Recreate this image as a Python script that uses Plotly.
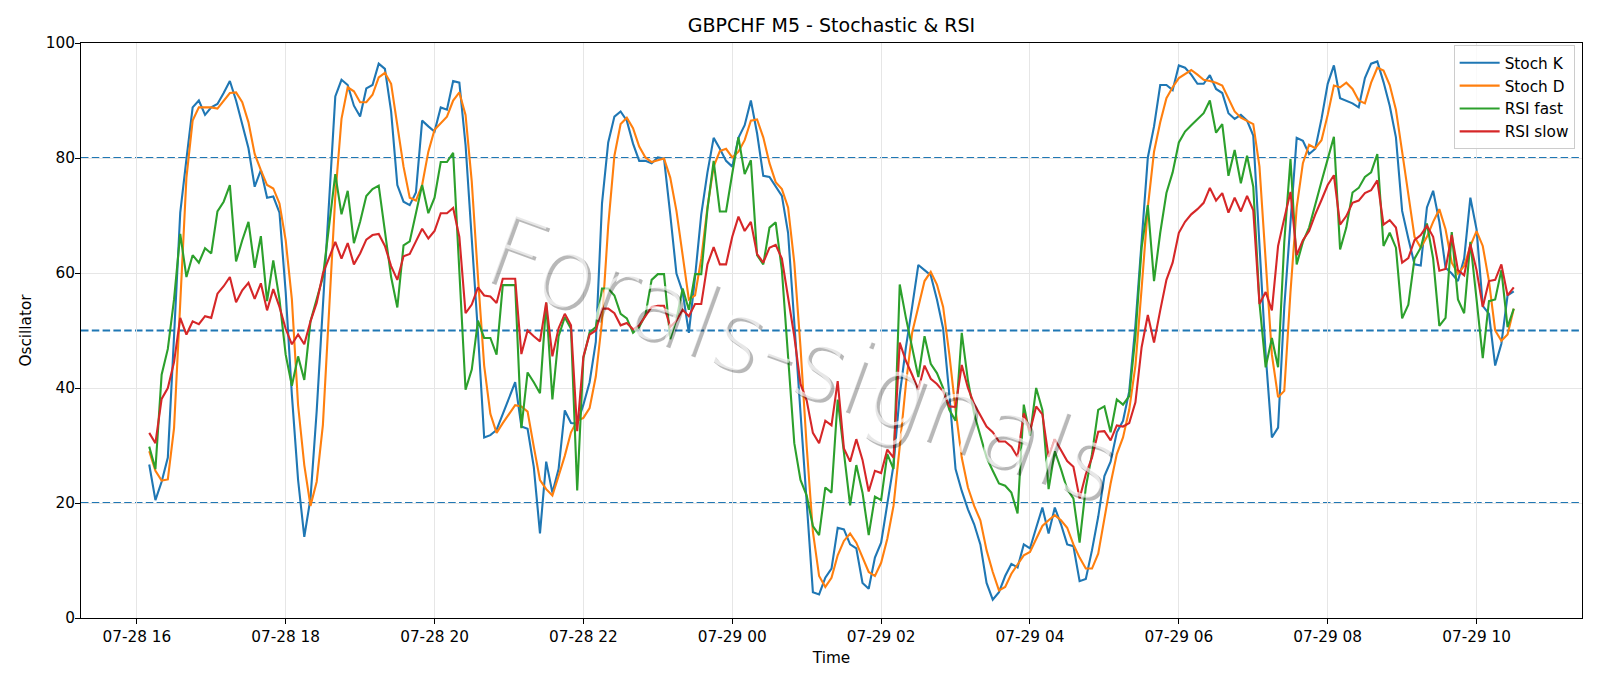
import pandas as pd
import plotly.graph_objects as go

START = "2025-07-28 16:10"
N_POINTS = 221
times = pd.date_range(START, periods=N_POINTS, freq="5min")

stoch_k = [26.7, 20.5, 23.7, 27.9, 49, 70.5, 79.8, 88.8, 90.0, 87.5, 88.8, 89.4, 91.3, 93.4, 90.0, 85.9, 81.7, 75.0, 77.9, 73.1,
           73.3, 70.5, 56.7, 38.8, 24.0, 14.1, 20.8, 36, 55, 72.7, 90.7, 93.6, 92.7, 89.1, 87.2, 92.1, 92.7, 96.4,
           95.5, 88.1, 75.3, 72.4, 71.8, 74.0, 86.5, 85.5, 84.6, 88.8, 88.4, 93.4, 93.1, 82.3, 66.3, 49.6, 31.4, 31.8, 32.7, 35.4,
           38.1, 41.0, 33.3, 32.9, 26.3, 14.7, 27.2, 21.8, 25.9, 36.1, 33.9, 33.8, 37.1, 41.0, 48.0, 72.1, 82.7, 87.2, 88.1,
           86.5, 82.5, 79.5, 79.5, 79.1, 80.1, 79.9, 70.2, 59.9, 56.7, 49.6, 59.3, 70.2, 77.5, 83.5, 81.6, 79.5, 78.5, 83.5, 85.7,
           90.0, 84.3, 76.9, 76.7, 75.0, 73.4, 67.0, 51.6, 36.2, 20.8, 4.5, 4.1, 7.0, 8.6, 15.7, 15.4, 12.8, 12.1,
           6.1, 5.1, 10.5, 13.1, 19.5, 26.6, 38.8, 47.1, 54.1, 61.4, 60.5, 59.6, 55.4, 50.3, 38.8, 25.9, 22.1, 18.9, 16.3, 12.8,
           6.1, 3.2, 4.5, 7.3, 9.4, 8.8, 12.8, 12.1, 15.7, 19.2, 14.7, 19.2, 16.3, 12.8, 12.5, 6.4, 6.8, 11.8, 17.6,
           24.7, 27.2, 32.3, 34.3, 39.4, 50.9, 66.3, 80.1, 85.5, 92.7, 92.7, 91.8, 96.1, 95.7, 94.5, 92.9, 92.9, 94.4, 92.0, 91.3,
           87.8, 86.8, 87.5, 86.5, 83.9, 64.4, 45.8, 31.4, 33.1, 54.1, 69.5, 83.5, 83.0, 80.7, 81.6, 86.8, 92.9, 96.1,
           90.4, 89.9, 89.5, 88.8, 93.9, 96.4, 96.8, 93.2, 89.1, 83.6, 70.8, 66.0, 61.5, 61.3, 71.4, 74.3, 68.9, 60.9, 59.9, 58.6,
           62.5, 73.1, 67.6, 54.3, 52.9, 43.9, 47.7, 56.1, 56.8]

stoch_d = [29.0, 25.6, 23.9, 24.1, 33.0, 55.4, 76.6, 86.5, 88.8, 88.8, 88.8, 88.6, 90.0, 91.3, 91.4, 89.7, 86.2, 80.7, 77.9, 75.3,
           74.7, 72.1, 65.7, 55.4, 37, 26.6, 19.5, 23.7, 33.6, 54.1, 73.4, 86.8, 92.3, 91.6, 89.7, 89.7, 91.0, 94.0,
           94.8, 92.9, 85.5, 78.5, 73.1, 72.6, 75.3, 81.1, 84.9, 86.1, 87.2, 90.0, 91.4, 87.5, 75.9, 59.3, 43.9, 35.5, 32.2, 33.9,
           35.5, 37.0, 36.8, 35.9, 29.8, 24.0, 22.4, 21.3, 24.7, 28.2, 32.3, 34.3, 34.8, 36.5, 42.0, 51.6, 68.2, 80.4, 85.9,
           87.0, 85.2, 82.0, 80.1, 79.3, 79.6, 79.9, 76.6, 70.8, 63.1, 55.4, 56.1, 62.5, 71.4, 78.5, 81.2, 81.6, 80.1, 81.1, 83.1,
           86.5, 86.7, 83.6, 79.1, 75.8, 74.6, 71.4, 61.8, 47.1, 29.8, 15.0, 7.3, 5.4, 7.0, 10.9, 13.4, 14.7, 13.1,
           10.5, 8.0, 7.3, 9.6, 13.8, 19.5, 29.8, 40.7, 49.6, 54.1, 58.6, 60.2, 58.0, 54.1, 45.8, 36.2, 27.9, 22.7, 19.5, 17.0,
           11.8, 8.0, 4.8, 5.4, 7.7, 9.3, 10.9, 11.5, 13.8, 16.0, 17.0, 17.9, 17.0, 15.7, 12.8, 10.5, 8.6, 8.6, 11.2,
           17.6, 23.4, 28.5, 31.4, 36.2, 43.9, 57.3, 71.4, 81.1, 86.2, 90.4, 92.3, 93.9, 94.6, 95.3, 94.5, 93.6, 93.4, 93.1, 92.6,
           90.4, 88.1, 87.0, 86.5, 85.9, 78.5, 61.8, 45.8, 38.4, 39.5, 56.7, 71.4, 79.1, 82.3, 81.7, 83.1, 87.5, 92.6,
           92.3, 93.1, 92.0, 90.0, 89.5, 93.1, 95.7, 95.2, 92.7, 88.4, 81.1, 73.4, 66.3, 64.4, 66.3, 68.9, 71.1, 67.6, 61.8, 59.9,
           61.2, 64.7, 67.3, 64.7, 58.6, 50.0, 48.2, 49.3, 53.8]

rsi_fast = [29.8, 25.9, 42.3, 46.8, 55.4, 66.8, 59.3, 63.1, 61.8, 64.3, 63.4, 70.7, 72.4, 75.3, 62.0, 65.7, 68.9, 60.9, 66.4, 55.1,
            62.2, 55.4, 45.8, 40.4, 45.5, 41.4, 51.6, 55.4, 59.3, 68.2, 77.2, 70.2, 74.3, 65.2, 68.9, 73.4, 74.6, 75.2,
            67.6, 59.3, 54.0, 64.8, 65.5, 70.2, 75.3, 70.4, 73.1, 79.3, 79.3, 80.9, 59.9, 39.7, 43.2, 51.7, 48.7, 48.7, 45.8, 57.9,
            57.9, 57.9, 33.0, 42.7, 41.0, 39.1, 54.8, 38.0, 49.0, 52.3, 50.3, 22.2, 45.2, 49.7, 50.6, 57.3, 57.3, 56.1, 52.9,
            52.1, 49.6, 50.6, 52.7, 58.8, 59.8, 59.8, 48.5, 51.9, 57.3, 53.6, 59.8, 59.8, 71.1, 79.5, 70.7, 70.7, 77.3, 83.6, 77.2,
            79.6, 63.1, 61.5, 67.9, 68.8, 60.5, 45.8, 30.4, 24.0, 21.3, 16.0, 14.4, 22.7, 21.8, 38.0, 28.5, 19.6, 26.6,
            21.8, 14.4, 21.1, 20.5, 28.5, 25.9, 58.0, 52.2, 47.1, 41.9, 49.0, 44.2, 42.6, 40.0, 36.2, 34.3, 49.6, 41.3, 35.5, 31.7,
            27.9, 25.6, 23.4, 23.0, 21.8, 18.2, 37.1, 31.7, 40.0, 36.2, 22.4, 29.0, 25.9, 22.4, 20.8, 13.1, 22.7, 28.5, 36.2,
            36.8, 32.3, 38.0, 37.1, 38.6, 49.0, 64.4, 71.8, 58.6, 67.0, 73.9, 77.5, 82.7, 84.6, 85.7, 86.8, 87.8, 90.0, 84.4, 85.9,
            76.9, 81.4, 75.6, 80.4, 75.0, 54.8, 43.6, 48.7, 43.6, 65.4, 79.8, 61.5, 65.4, 67.9, 72.1, 75.9, 79.8, 83.7,
            64.1, 67.9, 74.0, 74.8, 76.7, 77.5, 80.7, 64.7, 67.0, 64.4, 52.1, 54.5, 62.5, 64.4, 68.6, 62.5, 50.8, 52.2, 67.1, 55.4,
            53.0, 65.4, 55.4, 45.2, 55.1, 55.4, 60.5, 50.6, 53.8]

rsi_slow = [32.2, 30.4, 38.1, 40.0, 44.5, 52.2, 49.3, 51.6, 51.1, 52.5, 52.2, 56.4, 57.7, 59.3, 54.9, 57.0, 58.3, 55.5, 58.2, 53.5,
            57.2, 54.1, 50.3, 47.6, 49.3, 47.6, 51.6, 54.8, 59.9, 62.5, 65.4, 62.5, 65.2, 61.5, 63.4, 65.8, 66.6, 66.8,
            64.7, 61.2, 58.8, 62.9, 63.3, 65.5, 67.7, 66.0, 67.3, 70.4, 70.4, 71.3, 66.3, 53.0, 54.5, 57.5, 56.1, 55.9, 54.8, 59.0,
            59.0, 59.0, 45.9, 50.0, 49.0, 48.1, 54.9, 45.5, 50.4, 52.9, 50.9, 32.5, 45.5, 49.3, 50.0, 53.8, 53.8, 53.0, 50.9,
            51.3, 50.2, 50.9, 52.5, 54.1, 54.3, 54.3, 50.6, 51.7, 53.6, 52.5, 54.6, 54.6, 61.5, 64.5, 61.5, 61.5, 66.3, 69.8, 67.3,
            68.9, 63.3, 61.8, 64.4, 64.9, 62.5, 56.1, 49.0, 40.7, 37.8, 32.2, 30.4, 34.3, 33.5, 41.2, 29.5, 27.2, 31.1,
            27.5, 22.0, 25.6, 25.2, 29.3, 27.9, 47.9, 44.7, 42.3, 39.7, 43.9, 41.6, 40.7, 39.4, 36.8, 36.7, 44.0, 40.0, 37.2, 35.2,
            33.3, 32.3, 30.7, 30.7, 29.8, 28.0, 35.6, 32.5, 36.8, 35.4, 28.0, 31.1, 29.1, 27.3, 26.3, 20.8, 25.0, 27.9, 32.4,
            32.5, 30.9, 33.5, 33.3, 33.9, 37.5, 47.1, 52.7, 47.9, 53.5, 58.8, 61.8, 67.0, 68.9, 70.2, 71.1, 72.2, 74.8, 72.6, 73.9,
            70.5, 73.1, 70.7, 73.4, 70.9, 54.6, 56.7, 53.5, 64.7, 69.5, 74.1, 63.1, 65.7, 67.3, 70.2, 72.7, 75.3, 77.0,
            68.4, 69.9, 72.2, 72.6, 73.9, 74.4, 76.1, 68.4, 69.2, 67.9, 61.8, 62.6, 65.7, 66.6, 68.2, 66.3, 60.4, 60.7, 66.6, 60.5,
            59.6, 65.0, 60.5, 54.1, 58.6, 58.8, 61.5, 56.1, 57.5]

series_names = ["Stoch K", "Stoch D", "RSI fast", "RSI slow"]
series_values = [stoch_k, stoch_d, rsi_fast, rsi_slow]
series_colors = ["#1f77b4", "#ff7f0e", "#2ca02c", "#d62728"]
levels = [20, 50, 80]
y_ticks = [0, 20, 40, 60, 80, 100]
x_range = ["2025-07-28 15:15", "2025-07-29 11:25"]
title_text = "GBPCHF M5 - Stochastic & RSI"
watermark_text = "Forals-signals"

FONT = "DejaVu Sans"
FS = 15.3

fig = go.Figure()
for name, vals, col in zip(series_names, series_values, series_colors):
    fig.add_trace(go.Scatter(x=times, y=vals, mode="lines", name=name,
                             line=dict(color=col, width=2.1)))

for lv in levels:
    fig.add_shape(type="line", xref="paper", x0=0, x1=1, yref="y", y0=lv, y1=lv,
                  line=dict(color="#1f77b4", width=1.8, dash="7.5px,3.3px"), layer="below")

# watermark: soft shadow layer + translucent white layer on top
wm_x, wm_y, wm_angle, wm_size = 0.48, 0.452, 20, 98
fig.add_annotation(text=watermark_text, xref="paper", yref="paper", x=wm_x, y=wm_y,
                   showarrow=False, textangle=wm_angle, xshift=3, yshift=-3,
                   font=dict(family=FONT, size=wm_size, color="rgba(0,0,0,0.28)", weight=300))
fig.add_annotation(text=watermark_text, xref="paper", yref="paper", x=wm_x, y=wm_y,
                   showarrow=False, textangle=wm_angle,
                   font=dict(family=FONT, size=wm_size, color="rgba(255,255,255,0.66)", weight=300))

fig.update_layout(
    width=1600, height=686,
    margin=dict(l=81, r=18, t=43, b=68),
    paper_bgcolor="white", plot_bgcolor="white",
    font=dict(family=FONT, size=FS, color="black"),
    title=dict(text=title_text, x=0.5, xref="paper", xanchor="center",
               y=1 - 25 / 686, yref="container", yanchor="middle",
               font=dict(family=FONT, size=19, color="black")),
    legend=dict(x=0.9951, y=0.996, xanchor="right", yanchor="top",
                bgcolor="rgba(255,255,255,0.8)", bordercolor="#cccccc", borderwidth=1,
                itemwidth=40,
                font=dict(family=FONT, size=FS, color="black")),
    showlegend=True,
)

fig.update_xaxes(range=x_range, type="date", tickformat="%m-%d %H",
                 tick0="2025-07-28 16:00", dtick=2 * 3600 * 1000,
                 showline=True, linecolor="black", linewidth=1, mirror=True,
                 ticks="outside", ticklen=5, tickwidth=1, tickcolor="black",
                 showgrid=True, gridcolor="#e6e6e6", gridwidth=1, zeroline=False,
                 tickfont=dict(size=FS),
                 title=dict(text="Time", font=dict(size=FS), standoff=6))
fig.update_yaxes(range=[0, 100], tickvals=y_ticks,
                 showline=True, linecolor="black", linewidth=1, mirror=True,
                 ticks="outside", ticklen=5, tickwidth=1, tickcolor="black",
                 showgrid=True, gridcolor="#e6e6e6", gridwidth=1, zeroline=False,
                 tickfont=dict(size=FS), ticklabelstandoff=-3,
                 title=dict(text="Oscillator", font=dict(size=FS), standoff=10))

fig.write_html("out.html")
